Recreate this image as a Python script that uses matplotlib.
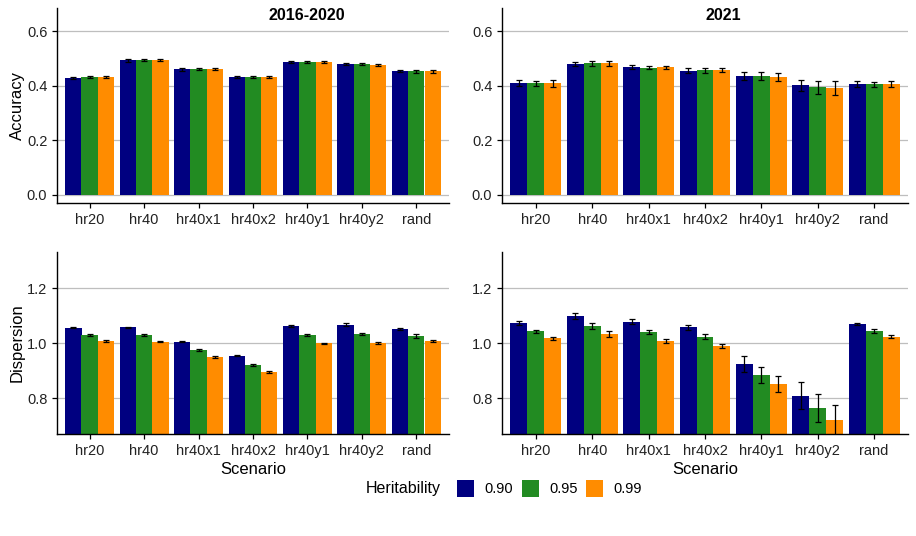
import numpy as np
import matplotlib
matplotlib.use("Agg")
import matplotlib.pyplot as plt
from matplotlib.patches import Rectangle

plt.rcParams['font.family'] = ['Liberation Sans', 'DejaVu Sans']

scenarios = ["hr20", "hr40", "hr40x1", "hr40x2", "hr40y1", "hr40y2", "rand"]
heritability = ["0.90", "0.95", "0.99"]
colors = ["#000080", "#228B22", "#FF8C00"]

# Accuracy 2016-2020 (rows = heritability 0.90, 0.95, 0.99)
acc_1620 = [[0.429, 0.493, 0.461, 0.432, 0.487, 0.480, 0.454],
            [0.432, 0.494, 0.461, 0.432, 0.487, 0.480, 0.453],
            [0.432, 0.494, 0.461, 0.432, 0.487, 0.476, 0.453]]
acc_1620_se = [[0.004, 0.005, 0.005, 0.004, 0.004, 0.004, 0.003],
               [0.005, 0.004, 0.004, 0.004, 0.005, 0.004, 0.005],
               [0.005, 0.004, 0.004, 0.004, 0.005, 0.004, 0.005]]

# Accuracy 2021
acc_2021 = [[0.410, 0.480, 0.469, 0.455, 0.436, 0.402, 0.406],
            [0.409, 0.482, 0.467, 0.457, 0.436, 0.395, 0.405],
            [0.410, 0.482, 0.468, 0.457, 0.432, 0.391, 0.406]]
acc_2021_se = [[0.010, 0.009, 0.006, 0.009, 0.014, 0.020, 0.010],
               [0.010, 0.008, 0.007, 0.009, 0.014, 0.024, 0.010],
               [0.013, 0.008, 0.006, 0.008, 0.016, 0.025, 0.010]]

# Dispersion 2016-2020
dis_1620 = [[1.056, 1.059, 1.005, 0.954, 1.063, 1.067, 1.052],
            [1.029, 1.029, 0.976, 0.920, 1.029, 1.034, 1.027],
            [1.008, 1.005, 0.950, 0.895, 1.000, 1.000, 1.008]]
dis_1620_se = [[0.002, 0.002, 0.002, 0.002, 0.002, 0.005, 0.002],
               [0.003, 0.003, 0.003, 0.003, 0.003, 0.003, 0.006],
               [0.003, 0.002, 0.003, 0.004, 0.002, 0.003, 0.003]]

# Dispersion 2021
dis_2021 = [[1.074, 1.099, 1.078, 1.059, 0.925, 0.810, 1.070],
            [1.044, 1.063, 1.041, 1.023, 0.885, 0.765, 1.045],
            [1.018, 1.034, 1.008, 0.990, 0.852, 0.721, 1.024]]
dis_2021_se = [[0.007, 0.010, 0.009, 0.009, 0.028, 0.048, 0.005],
               [0.006, 0.010, 0.007, 0.009, 0.029, 0.050, 0.006],
               [0.006, 0.010, 0.007, 0.007, 0.029, 0.054, 0.005]]

W, H = 916, 536
fig = plt.figure(figsize=(W / 100, H / 100), dpi=100)


def add_ax(x0, y0, x1, y1):
    return fig.add_axes([x0 / W, 1 - y1 / H, (x1 - x0) / W, (y1 - y0) / H])


def draw(ax, vals, errs, ylim, yticks):
    x = np.arange(len(scenarios))
    bw = 0.3
    ax.set_axisbelow(True)
    ax.yaxis.grid(True, color="#bebebe", linewidth=0.9)
    for i in range(3):
        pos = x + (i - 1) * bw
        ax.bar(pos, vals[i], width=bw, color=colors[i], zorder=2)
        ax.errorbar(pos, vals[i], yerr=errs[i], fmt="none", ecolor="black",
                    elinewidth=0.9, capsize=2.2, capthick=0.9, zorder=3)
    ax.set_xlim(-0.6, 6.6)
    ax.set_ylim(*ylim)
    ax.set_yticks(yticks)
    ax.set_yticklabels([f"{t:.1f}" for t in yticks])
    ax.set_xticks(x)
    ax.set_xticklabels(scenarios)
    for s in ["top", "right"]:
        ax.spines[s].set_visible(False)
    for s in ["left", "bottom"]:
        ax.spines[s].set_linewidth(1.0)
    ax.tick_params(axis="both", labelsize=10.5, colors="black", length=3.5, width=0.9,
                   labelcolor="#222222")


ax1 = add_ax(57, 8, 449, 203)
ax2 = add_ax(502, 8, 908, 203)
ax3 = add_ax(57, 252, 449, 434)
ax4 = add_ax(502, 252, 908, 434)

acc_ticks = [0.0, 0.2, 0.4, 0.6]
dis_ticks = [0.8, 1.0, 1.2]
draw(ax1, acc_1620, acc_1620_se, (-0.031, 0.686), acc_ticks)
draw(ax2, acc_2021, acc_2021_se, (-0.031, 0.686), acc_ticks)
draw(ax3, dis_1620, dis_1620_se, (0.67, 1.332), dis_ticks)
draw(ax4, dis_2021, dis_2021_se, (0.67, 1.332), dis_ticks)

# axis titles
fig.text(17 / W, 1 - 105 / H, "Accuracy", rotation=90, ha="center", va="center", fontsize=12)
fig.text(17 / W, 1 - 343 / H, "Dispersion", rotation=90, ha="center", va="center", fontsize=12)
fig.text(253 / W, 1 - 469 / H, "Scenario", ha="center", va="center", fontsize=12)
fig.text(705 / W, 1 - 469 / H, "Scenario", ha="center", va="center", fontsize=12)

# panel titles
fig.text(307 / W, 1 - 16 / H, "2016-2020", ha="center", va="center",
         fontsize=11.5, fontweight="bold")
fig.text(723 / W, 1 - 16 / H, "2021", ha="center", va="center",
         fontsize=11.5, fontweight="bold")

# legend at the bottom
fig.text(366 / W, 1 - 489 / H, "Heritability", ha="left", va="center", fontsize=11.5)
key_x = [457, 522, 586]
for kx, c, lab in zip(key_x, colors, heritability):
    fig.add_artist(Rectangle((kx / W, 1 - 497 / H), 17 / W, 17 / H,
                             transform=fig.transFigure, facecolor=c, edgecolor="none"))
    fig.text((kx + 27) / W, 1 - 489 / H, lab, ha="left", va="center", fontsize=10.5)

fig.savefig("out.png", dpi=100)
